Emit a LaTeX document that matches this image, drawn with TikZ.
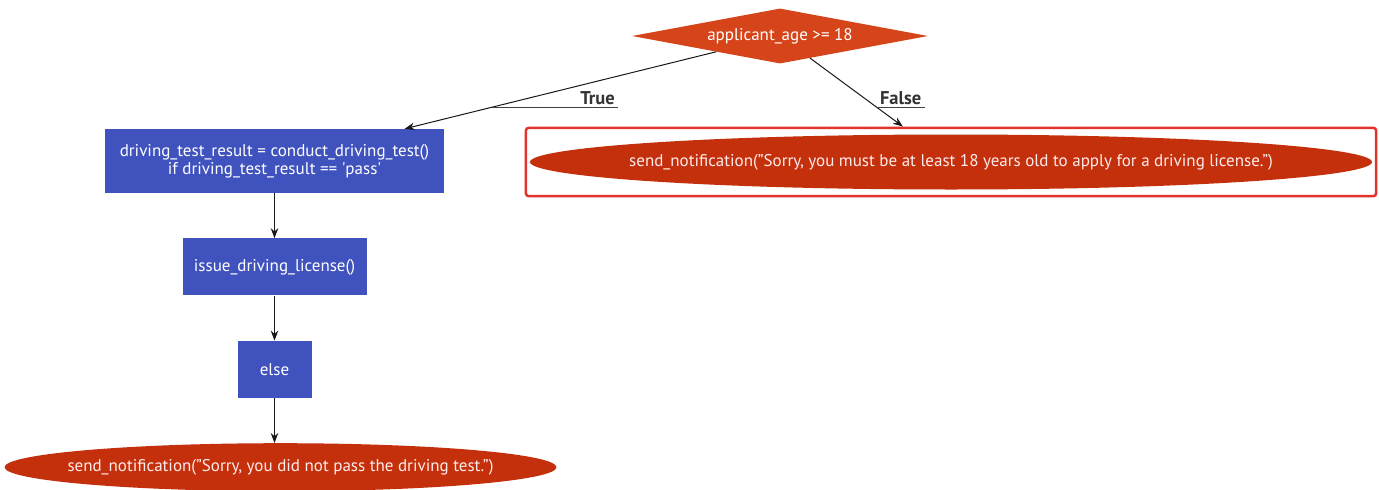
\documentclass[tikz,border=0pt]{standalone}
\usepackage{fontspec}
\setmainfont{PT Sans}
\usetikzlibrary{arrows.meta,positioning,fit,shapes.geometric}
\definecolor{azulcaja}{RGB}{64,82,190}
\definecolor{naranjarombo}{RGB}{214,68,26}
\definecolor{rojoelipse}{RGB}{196,48,12}
\definecolor{rojomarco}{RGB}{226,52,44}
\newcommand{\centrado}[1]{\makebox[0pt]{#1}}
\tikzset{
  caja/.style      = {rectangle, fill=azulcaja, text=white, align=center,
                      font=\fontsize{17}{18}\selectfont,
                      minimum height=57pt, inner sep=2pt},
  rombo/.style     = {diamond, aspect=5.4, fill=naranjarombo, text=white,
                      font=\fontsize{17}{18}\selectfont, inner sep=1pt,
                      minimum width=296pt, minimum height=55pt},
  elipse/.style    = {ellipse, fill=rojoelipse, text=white!92!red,
                      font=\fontsize{17}{18}\selectfont, inner sep=0pt},
  marco/.style     = {rectangle, draw=rojomarco, line width=2.5pt,
                      rounded corners=3pt, inner xsep=4pt, inner ysep=6.5pt},
  etiqueta/.style  = {font=\fontsize{18.5}{20}\selectfont\bfseries,
                      text=black!80, inner xsep=3pt, inner ysep=2.5pt},
  subrayado/.style = {draw=black!75, line width=0.9pt},
  flecha/.style    = {-{Stealth[length=10pt,width=7.5pt]}, line width=1pt, draw=black!90},
}

\begin{document}
\begin{tikzpicture}[x=1pt, y=-1pt, node distance=45pt]
    \useasboundingbox (0,0) rectangle (1379,490);

    % --- decision
    \node[rombo] (edad) at (780,36) {applicant\_age >= 18};

    % --- rama verdadera
    \node[caja, minimum width=339pt, minimum height=64pt] (prueba) at (274.5,161)
      {driving\_test\_result = conduct\_driving\_test()\\
       if driving\_test\_result == \textquotesingle pass\textquotesingle};
    \node[caja, minimum width=184pt, below=of prueba] (licencia) {issue\_driving\_license()};
    \node[caja, minimum width=74pt, below=of licencia] (sino) {else};
    \node[elipse, minimum width=552pt, minimum height=48pt, below=of sino, xshift=6pt] (suspenso)
      {\centrado{send\_notification("Sorry, you did not pass the driving test.")}};

    % --- rama falsa
    \node[elipse, minimum width=842pt, minimum height=55pt] (menor) at (951,162)
      {\centrado{send\_notification("Sorry, you must be at least 18 years old to apply for a driving license.")}};
    \node[marco, fit=(menor)] (grupo) {};

    % --- flechas
    \draw[flecha] (edad) -- coordinate[pos=0.72] (pV) (prueba);
    \draw[flecha] (edad) -- coordinate[pos=0.72] (pF) (grupo);
    \draw[flecha] (prueba) -- (licencia);
    \draw[flecha] (licencia) -- (sino);
    \draw[flecha] (sino) -- (sino |- suspenso.north);

    % --- etiquetas
    \node[etiqueta, anchor=south east] (verdadero) at (618,107) {True};
    \draw[subrayado] (pV) -- (pV -| verdadero.south east);
    \node[etiqueta, anchor=south west] (falso) at (pF) {False};
    \draw[subrayado] (pF) -- (falso.south east);
  \end{tikzpicture}
\end{document}
